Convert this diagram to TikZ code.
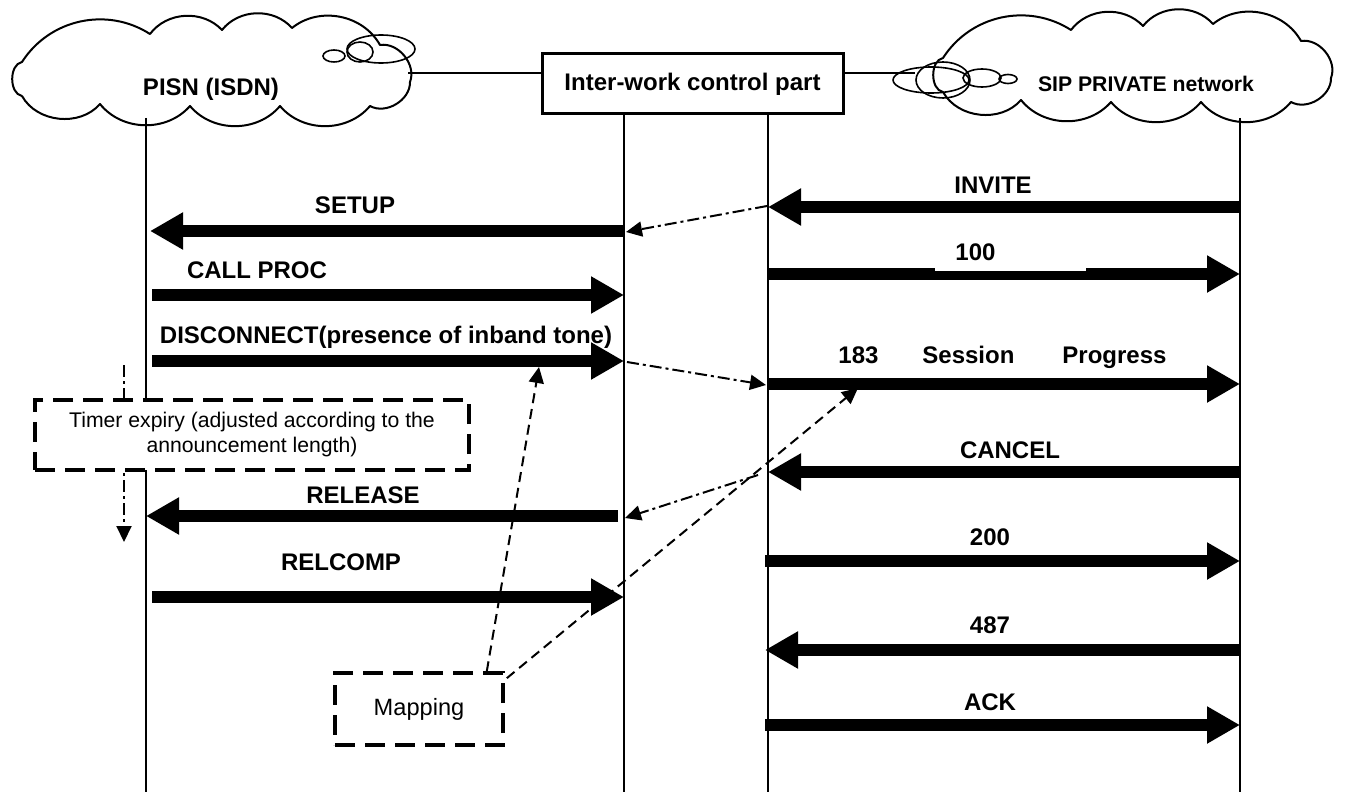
\documentclass[tikz,border=0pt]{standalone}
\usepackage{fontspec}
\setmainfont{Liberation Sans}
\usetikzlibrary{arrows.meta}
\tikzset{
  wordcloud/.pic={
    \draw[line width=1pt, line join=round]
      (22,96) to[bend left=80] (22,62) to[bend left=45] (150,34)
      to[bend left=50] (222,30) to[bend left=50] (292,28)
      to[bend left=50] (380,45) to[bend left=60] (410,82)
      to[bend left=60] (370,106) to[bend left=50] (280,106)
      to[bend left=50] (190,106) to[bend left=50] (100,104)
      to[bend left=55] (22,96);
  }
}
\begin{document}
\begin{tikzpicture}[x=0.5pt,y=-0.5pt,
  life/.style={line width=1pt},
  msg/.style={line width=6pt,-{Triangle[length=16.5pt,width=17.5pt]}},
  lbl/.style={font=\fontsize{12}{14}\selectfont\bfseries, inner sep=0pt},
  dashdot/.style={line width=1pt,dash pattern=on 6pt off 2pt on 1.5pt off 2pt,-{Triangle[length=8pt,width=7.5pt]}},
  mapline/.style={line width=1pt,dash pattern=on 5pt off 3pt,-{Triangle[length=8pt,width=7.5pt]}},
  notebox/.style={draw,line width=1.8pt,dash pattern=on 10pt off 5pt,fill=white,inner sep=0pt},
  bub/.style={line width=0.8pt}
]
\useasboundingbox (0,0) rectangle (1354,792);

% clouds
\pic (cloudL) at (0,0) {wordcloud};
\pic (cloudR) at (921,-4) {wordcloud};
\node[lbl] (pisn) at (211,89) {PISN (ISDN)};
\node[lbl, font=\fontsize{10.6}{12}\selectfont\bfseries] (sip) at (1146,84) {SIP PRIVATE network};

% bubbles
\draw[bub] (334,56) ellipse [x radius=11, y radius=6];
\draw[bub] (360,52) ellipse [x radius=13, y radius=10];
\draw[bub] (381,49) ellipse [x radius=34, y radius=14];
\draw[bub] (931,80) ellipse [x radius=38, y radius=13];
\draw[bub] (943,80) ellipse [x radius=27, y radius=18];
\draw[bub] (982,78) ellipse [x radius=19, y radius=9];
\draw[bub] (1008,79) ellipse [x radius=9, y radius=4.5];

% inter-work box and links
\node[draw, line width=1.5pt, minimum width=150.5pt, minimum height=30pt, lbl] (iw) at (692.5,84) {Inter-work control part};
\coordinate (linkL) at (408,73);
\coordinate (linkR) at (915,73);
\draw[life] (linkL) -- (linkL -| iw.west);
\draw[life] (iw.east |- linkR) -- (linkR);

% lifelines
\coordinate (A0) at (146,118); \coordinate (A1) at (146,792);
\coordinate (B0) at (624,114); \coordinate (B1) at (624,792);
\coordinate (C0) at (768,114); \coordinate (C1) at (768,792);
\coordinate (D0) at (1240,118); \coordinate (D1) at (1240,792);
\draw[life] (A0) -- (A1);
\draw[life] (B0) -- (B1);
\draw[life] (C0) -- (C1);
\draw[life] (D0) -- (D1);

% timer vertical arrow (behind the timer box)
\coordinate (t0) at (124,365); \coordinate (t1) at (124,542);
\draw[dashdot] (t0) -- (t1);

% messages
\coordinate (m1a) at (1240,207); \coordinate (m1b) at (768,207);
\draw[msg] (m1a) -- (m1b);
\node[lbl] (l1) at (993,185) {INVITE};

\coordinate (m2a) at (624,231); \coordinate (m2b) at (150,231);
\draw[msg] (m2a) -- (m2b);
\node[lbl] (l2) at (355,205) {SETUP};

\coordinate (m3a) at (768,274); \coordinate (m3b) at (1240,274);
\draw[msg] (m3a) -- (m3b);
\node[lbl, fill=white, anchor=south west, inner xsep=10pt, inner ysep=5pt, text width=55.5pt, align=left] (l3) at (935,271) {100};

\coordinate (m4a) at (152,295); \coordinate (m4b) at (624,295);
\draw[msg] (m4a) -- (m4b);
\node[lbl] (l4) at (257,270) {CALL PROC};

\coordinate (m5a) at (152,361); \coordinate (m5b) at (624,361);
\draw[msg] (m5a) -- (m5b);
\node[lbl] (l5) at (386,337) {DISCONNECT(presence of inband tone)};

\coordinate (m6a) at (768,384); \coordinate (m6b) at (1240,384);
\draw[msg] (m6a) -- (m6b);
\node[lbl, anchor=west] (l6) at (838,357) {183\hspace{22pt}Session\hspace{24pt}Progress};

\coordinate (m7a) at (1240,472); \coordinate (m7b) at (768,472);
\draw[msg] (m7a) -- (m7b);
\node[lbl] (l7) at (1010,450) {CANCEL};

\coordinate (m8a) at (618,516); \coordinate (m8b) at (146,516);
\draw[msg] (m8a) -- (m8b);
\node[lbl] (l8) at (363,495) {RELEASE};

\coordinate (m9a) at (765,561); \coordinate (m9b) at (1240,561);
\draw[msg] (m9a) -- (m9b);
\node[lbl] (l9) at (990,537) {200};

\coordinate (m10a) at (152,597); \coordinate (m10b) at (624,597);
\draw[msg] (m10a) -- (m10b);
\node[lbl] (l10) at (341,562) {RELCOMP};

\coordinate (m11a) at (1240,650); \coordinate (m11b) at (765,650);
\draw[msg] (m11a) -- (m11b);
\node[lbl] (l11) at (990,625) {487};

\coordinate (m12a) at (765,725); \coordinate (m12b) at (1240,725);
\draw[msg] (m12a) -- (m12b);
\node[lbl] (l12) at (990,702) {ACK};

% dash-dot mapping arrows
\coordinate (d1a) at (767,206); \coordinate (d1b) at (626,232);
\draw[dashdot] (d1a) -- (d1b);
\coordinate (d2a) at (627,362); \coordinate (d2b) at (766,385);
\draw[dashdot] (d2a) -- (d2b);
\coordinate (d3a) at (758,475); \coordinate (d3b) at (625,518);
\draw[dashdot] (d3a) -- (d3b);

% timer box
\node[notebox, minimum width=217pt, minimum height=35pt, align=center,
      font=\fontsize{10.6}{12.5}\selectfont] (timer) at (252,435)
  {Timer expiry (adjusted according to the\\announcement length)};

% mapping box
\node[notebox, minimum width=84pt, minimum height=36pt,
      font=\fontsize{11.8}{14}\selectfont] (map) at (419,709) {Mapping};
\coordinate (mp1) at (539,367);
\coordinate (mp2) at (858,388);
\draw[mapline] (map.north east) ++(-18,0) coordinate (mq1) -- (mp1);
\draw[mapline] (map.north east) ++(2,7) coordinate (mq2) -- (mp2);
\end{tikzpicture}
\end{document}
